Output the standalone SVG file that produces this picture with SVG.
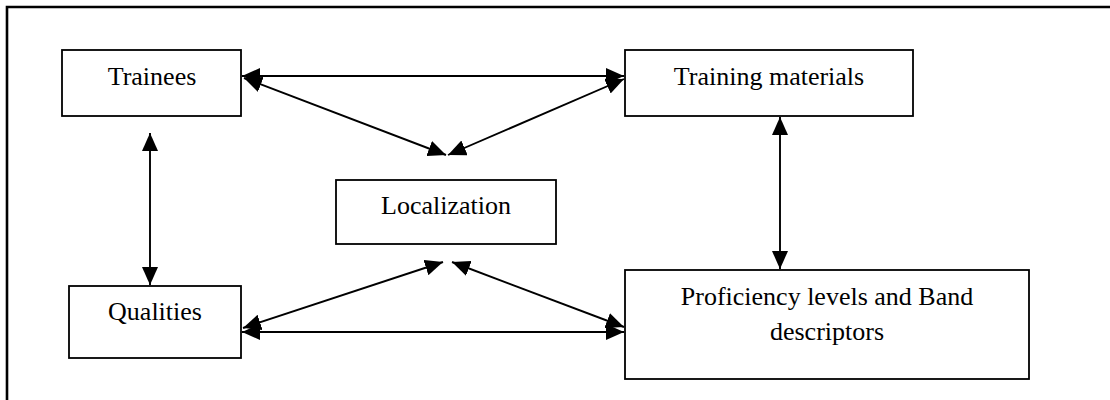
<svg xmlns="http://www.w3.org/2000/svg" width="1110" height="400" viewBox="0 0 1110 400">
  <style>
    .box { fill: #ffffff; stroke: #000000; stroke-width: 1.8; }
    .lbl { font-family: "Liberation Serif", "Times New Roman", serif; font-size: 26px; fill: #000000; text-anchor: middle; }
    .link { stroke: #000000; stroke-width: 1.9; fill: none; marker-start: url(#head); marker-end: url(#head); }
  </style>
  <defs>
    <marker id="head" viewBox="0 0 18 16" refX="18" refY="8" markerWidth="18" markerHeight="16" markerUnits="userSpaceOnUse" orient="auto-start-reverse">
      <path d="M0,0 L18,8 L0,16 Z" fill="#000000"/>
    </marker>
  </defs>

  <rect width="1110" height="400" fill="#ffffff"/>
  <!-- page frame: top and left rules -->
  <path d="M7,400 L7,7 L1110,7" fill="none" stroke="#000000" stroke-width="2.6"/>

  <g id="connectors">
    <line class="link" x1="242" y1="76" x2="624" y2="76"/>
    <line class="link" x1="244" y1="78" x2="446" y2="155"/>
    <line class="link" x1="624" y1="79" x2="448" y2="155"/>
    <line class="link" x1="150" y1="133" x2="150" y2="285"/>
    <line class="link" x1="780" y1="117" x2="780" y2="269"/>
    <line class="link" x1="242" y1="332" x2="624" y2="332"/>
    <line class="link" x1="243" y1="328" x2="443" y2="262"/>
    <line class="link" x1="452" y1="262" x2="624" y2="327"/>
  </g>

  <g id="trainees">
    <rect class="box" x="62" y="50" width="179" height="66"/>
    <text class="lbl" x="152" y="85">Trainees</text>
  </g>

  <g id="training-materials">
    <rect class="box" x="625" y="50" width="288" height="66"/>
    <text class="lbl" x="769" y="85">Training materials</text>
  </g>

  <g id="localization">
    <rect class="box" x="336" y="180" width="220" height="64"/>
    <text class="lbl" x="446" y="214">Localization</text>
  </g>

  <g id="qualities">
    <rect class="box" x="69" y="286" width="172" height="72"/>
    <text class="lbl" x="155" y="320">Qualities</text>
  </g>

  <g id="proficiency">
    <rect class="box" x="625" y="270" width="404" height="109"/>
    <text class="lbl" x="827" y="305">Proficiency levels and Band</text>
    <text class="lbl" x="827" y="340">descriptors</text>
  </g>
</svg>
